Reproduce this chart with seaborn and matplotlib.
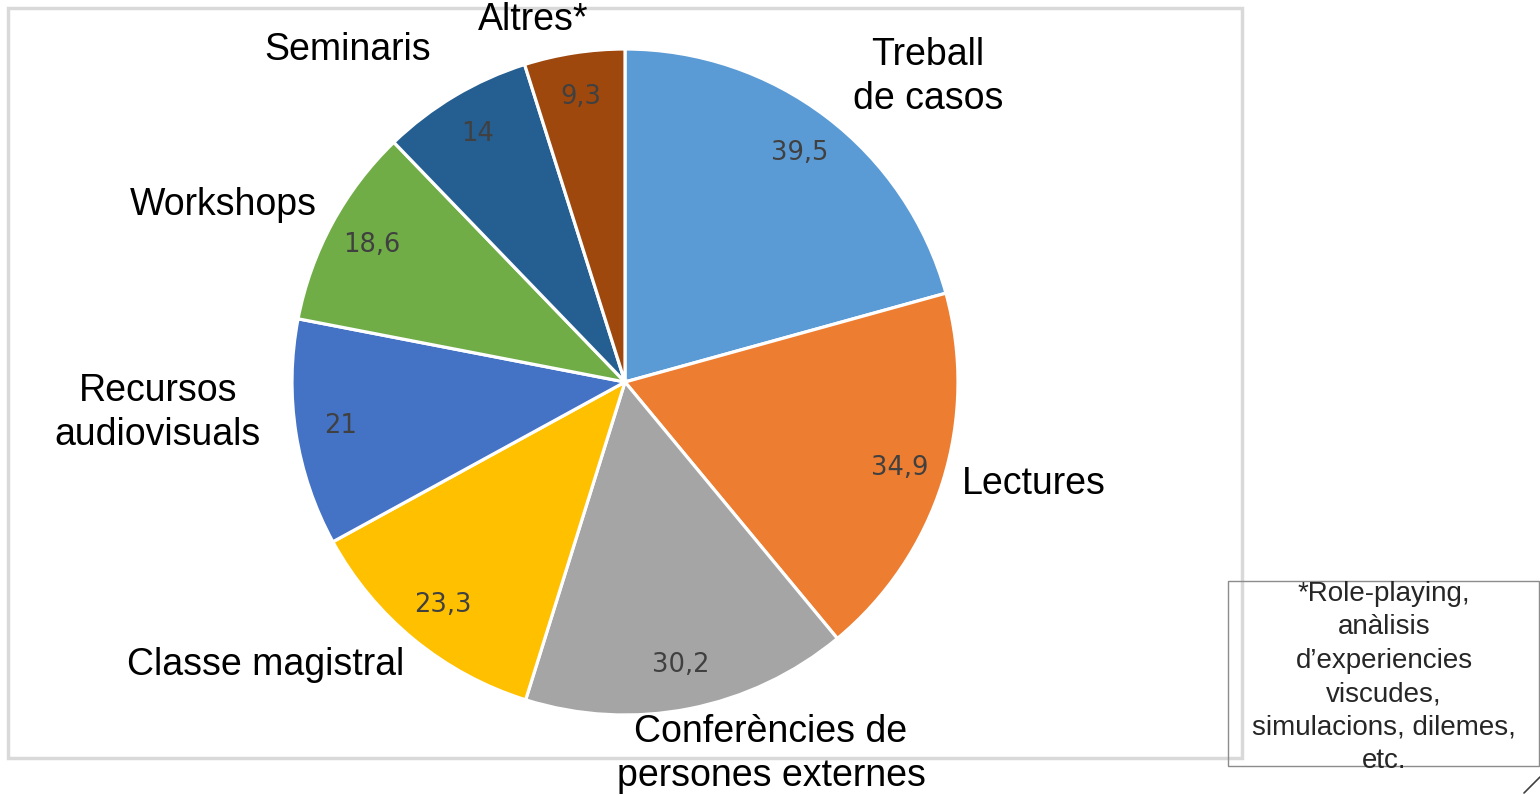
import matplotlib
matplotlib.use("Agg")
import matplotlib.pyplot as plt
import seaborn as sns
import numpy as np
from matplotlib.patches import Rectangle

categories = ["Treball\nde casos", "Lectures", "Conferències de\npersones externes",
              "Classe magistral", "Recursos\naudiovisuals", "Workshops", "Seminaris", "Altres*"]
values = [39.5, 34.9, 30.2, 23.3, 21, 18.6, 14, 9.3]
value_labels = ["39,5", "34,9", "30,2", "23,3", "21", "18,6", "14", "9,3"]
colors = ["#5B9BD5", "#ED7D31", "#A5A5A5", "#FFC000", "#4472C4", "#70AD47", "#255E91", "#9E480E"]
note = "*Role-playing,\nanàlisis\nd\u2019experiencies\nviscudes,\nsimulacions, dilemes,\netc."

sns.set_theme(style="white")
plt.rcParams['font.family'] = ['Liberation Sans', 'DejaVu Sans']

W, H = 1540, 795
cx, cy, R = 625, 382, 333

fig = plt.figure(figsize=(W / 100, H / 100), dpi=100)
ax = fig.add_axes([0, 0, 1, 1])

def px(x, y):
    return (x - cx) / R, (cy - y) / R

wedges, texts = ax.pie(values, colors=colors, startangle=90, counterclock=False,
                       labels=value_labels, labeldistance=0.865, radius=1,
                       wedgeprops=dict(edgecolor="white", linewidth=2.3),
                       textprops=dict(fontsize=18.5, color="#404040", family="DejaVu Sans"))
for t in texts:
    t.set_ha("center")
    t.set_va("center")

label_pos = [(928, 77), (1034, 484), (771, 754), (266, 665),
             (158, 413), (223, 205), (348, 50), (533, 20)]
for lab, (x, y) in zip(categories, label_pos):
    dx, dy = px(x, y)
    ax.text(dx, dy, lab, ha="center", va="center", fontsize=27, color="black",
            linespacing=1.3)

ax.set_xlim(-cx / R, (W - cx) / R)
ax.set_ylim((cy - H) / R, cy / R)
ax.set_aspect("auto")
ax.axis("off")

# outer chart frame
x0, y0 = px(8, 758)
x1, y1 = px(1242, 8)
ax.add_patch(Rectangle((x0, y0), x1 - x0, y1 - y0, fill=False, edgecolor="#d9d9d9",
                       linewidth=2.5, zorder=0, clip_on=False))

# note box
bx0, by0 = px(1228, 766)
bx1, by1 = px(1539, 581)
ax.add_patch(Rectangle((bx0, by0), bx1 - bx0, by1 - by0, fill=False, edgecolor="#8c8c8c",
                       linewidth=1.0, zorder=1, clip_on=False))
tx, ty = px(1384, 581)
ax.text(tx, ty, note, ha="center", va="top", fontsize=20, color="#262626",
        linespacing=1.37)

# small corner mark
lx0, ly0 = px(1524, 793)
lx1, ly1 = px(1540, 777)
ax.plot([lx0, lx1], [ly0, ly1], color="#404040", linewidth=1.2)

fig.savefig("out.png", dpi=100)
